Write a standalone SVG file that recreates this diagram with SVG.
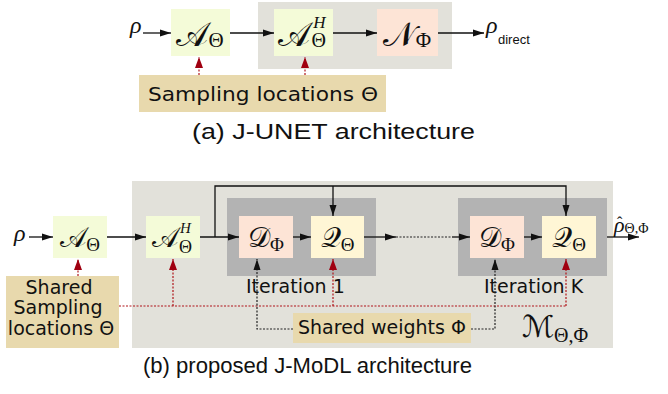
<svg xmlns="http://www.w3.org/2000/svg" width="668" height="394" viewBox="0 0 668 394">
<style>
.bg{fill:#e2e1da}
.iter{fill:#b3b3b3}
.bg-g{fill:#f4fbd8}
.bg-p{fill:#fde4d6}
.bg-y{fill:#fff6d5}
.beige{fill:#e8d9ad}
.cal{font-family:"DejaVu Serif","DejaVu Sans",serif;fill:#111}
.gr{font-family:"Liberation Serif","DejaVu Serif",serif;font-style:normal;fill:#111}
.it{font-family:"Liberation Serif","DejaVu Serif",serif;font-style:italic;fill:#111}
.lbl{font-family:"DejaVu Sans",sans-serif;font-size:19px;fill:#111}
.cap{font-family:"Liberation Sans",Arial,sans-serif;font-size:22px;fill:#111}
.ln{fill:none;stroke:#111;stroke-width:1.3}
.dot{fill:none;stroke:#222;stroke-width:1.2;stroke-dasharray:2 1.5}
.red{fill:none;stroke:#b0141a;stroke-width:1.2;stroke-dasharray:2 1.5}
</style>
<defs>
<marker id="ah" markerUnits="userSpaceOnUse" markerWidth="12" markerHeight="10" refX="11" refY="5" orient="auto"><path d="M0,1.5 L11,5 L0,8.5 Z" fill="#111"/></marker>
<marker id="ahr" markerUnits="userSpaceOnUse" markerWidth="12" markerHeight="10" refX="11" refY="5" orient="auto"><path d="M0,1 L11,5 L0,9 Z" fill="#a00010"/></marker>
</defs>

<!-- (a) J-UNET -->
<rect class="bg" x="258" y="2" width="194" height="67"/>
<g id="a-rho"><text class="it" x="130" y="33" font-size="24">ρ</text></g>
<g id="a-A"><rect class="bg-g" x="171" y="9" width="59" height="47"/>
<text class="cal" x="200" y="46" font-size="34" text-anchor="middle">𝒜<tspan class="gr" font-size="21" dy="1">Θ</tspan></text></g>
<g id="a-AH"><rect class="bg-g" x="274" y="9" width="59" height="47"/>
<text class="cal" x="302" y="46" font-size="34" text-anchor="middle">𝒜<tspan class="it" font-size="17" dx="3" dy="-18">H</tspan><tspan class="gr" font-size="20" dx="-14" dy="19">Θ</tspan></text></g>
<g id="a-N"><rect class="bg-p" x="377" y="9" width="61" height="47"/>
<text class="cal" x="407" y="46" font-size="34" text-anchor="middle">𝒩<tspan class="gr" font-size="21" dy="1">Φ</tspan></text></g>
<g id="a-out"><text class="it" x="486" y="33" font-size="24">ρ</text><text x="498" y="44" font-family="Liberation Sans,Arial,sans-serif" font-size="13" fill="#111">direct</text></g>
<g id="a-samp"><rect class="beige" x="139" y="75" width="247" height="37"/>
<text class="lbl" x="148" y="101" font-size="20" textLength="230" lengthAdjust="spacingAndGlyphs">Sampling locations Θ</text></g>
<g id="a-conn">
<line class="ln" x1="143" y1="33" x2="171" y2="33" marker-end="url(#ah)"/>
<line class="ln" x1="230" y1="33" x2="274" y2="33" marker-end="url(#ah)"/>
<line class="ln" x1="333" y1="33" x2="377" y2="33" marker-end="url(#ah)"/>
<line class="ln" x1="438" y1="33" x2="484" y2="33" marker-end="url(#ah)"/>
<line class="red" x1="199" y1="75" x2="199" y2="57" marker-end="url(#ahr)"/>
<line class="red" x1="305" y1="75" x2="305" y2="57" marker-end="url(#ahr)"/>
</g>
<text class="cap" x="192" y="139" textLength="283" lengthAdjust="spacingAndGlyphs">(a) J-UNET architecture</text>

<!-- (b) J-MoDL -->
<rect class="bg" x="132" y="181" width="481" height="167"/>
<rect class="iter" x="227" y="198" width="149" height="78"/>
<rect class="iter" x="458" y="198" width="149" height="78"/>
<text class="lbl" x="246" y="293">Iteration 1</text>
<text class="lbl" x="484" y="293">Iteration K</text>

<g id="b-rho"><text class="it" x="14" y="241" font-size="24">ρ</text></g>
<g id="b-A"><rect class="bg-g" x="53" y="216" width="54" height="42"/>
<text class="cal" x="80" y="247" font-size="28" text-anchor="middle">𝒜<tspan class="gr" font-size="19" dy="4">Θ</tspan></text></g>
<g id="b-AH"><rect class="bg-g" x="146" y="216" width="54" height="42"/>
<text class="cal" x="172" y="247" font-size="28" text-anchor="middle">𝒜<tspan class="it" font-size="15" dx="2" dy="-14">H</tspan><tspan class="gr" font-size="18" dx="-12" dy="20">Θ</tspan></text></g>
<g id="b-D1"><rect class="bg-p" x="239" y="216" width="54" height="42"/>
<text class="cal" x="266" y="247" font-size="28" text-anchor="middle">𝒟<tspan class="gr" font-size="19" dy="4">Φ</tspan></text></g>
<g id="b-Q1"><rect class="bg-y" x="311" y="216" width="53" height="42"/>
<text class="cal" x="337.5" y="247" font-size="28" text-anchor="middle">𝒬<tspan class="gr" font-size="19" dy="4">Θ</tspan></text></g>
<g id="b-DK"><rect class="bg-p" x="470" y="216" width="54" height="42"/>
<text class="cal" x="497" y="247" font-size="28" text-anchor="middle">𝒟<tspan class="gr" font-size="19" dy="4">Φ</tspan></text></g>
<g id="b-QK"><rect class="bg-y" x="542" y="216" width="54" height="42"/>
<text class="cal" x="569" y="247" font-size="28" text-anchor="middle">𝒬<tspan class="gr" font-size="19" dy="4">Θ</tspan></text></g>
<g id="b-out"><text class="it" x="614" y="232" font-size="22">ρ<tspan class="gr" font-size="14" dy="1">Θ,Φ</tspan></text><text class="gr" x="617" y="228" font-size="16">ˆ</text></g>
<g id="b-M"><text class="cal" x="522" y="337" font-size="30">ℳ<tspan class="gr" font-size="20" dy="5">Θ,Φ</tspan></text></g>
<g id="b-samp"><rect class="beige" x="6" y="276" width="113" height="72"/>
<text class="lbl" text-anchor="middle"><tspan x="59" y="294">Shared</tspan><tspan x="58" y="314">Sampling</tspan><tspan x="61" y="335">locations Θ</tspan></text></g>
<g id="b-weights"><rect class="beige" x="293" y="313" width="178" height="30"/>
<text class="lbl" x="298" y="334">Shared weights Φ</text></g>

<g id="b-conn">
<line class="ln" x1="29" y1="237" x2="53" y2="237" marker-end="url(#ah)"/>
<line class="ln" x1="107" y1="237" x2="146" y2="237" marker-end="url(#ah)"/>
<line class="ln" x1="200" y1="237" x2="239" y2="237" marker-end="url(#ah)"/>
<path class="ln" d="M215,237 V186 H566 V216" marker-end="url(#ah)"/>
<line class="ln" x1="333" y1="186" x2="333" y2="216" marker-end="url(#ah)"/>
<line class="ln" x1="293" y1="237" x2="311" y2="237" marker-end="url(#ah)"/>
<line class="ln" x1="364" y1="237" x2="396" y2="237" marker-end="url(#ah)"/>
<line class="dot" x1="396" y1="237" x2="452" y2="237"/>
<line class="ln" x1="452" y1="237" x2="470" y2="237" marker-end="url(#ah)"/>
<line class="ln" x1="524" y1="237" x2="542" y2="237" marker-end="url(#ah)"/>
<line class="ln" x1="607" y1="237" x2="639" y2="237" marker-end="url(#ah)"/>
<path class="red" d="M119,306 H566"/>
<line class="red" x1="78" y1="276" x2="78" y2="259" marker-end="url(#ahr)"/>
<line class="red" x1="173" y1="306" x2="173" y2="259" marker-end="url(#ahr)"/>
<line class="red" x1="333" y1="306" x2="333" y2="259" marker-end="url(#ahr)"/>
<line class="red" x1="566" y1="306" x2="566" y2="259" marker-end="url(#ahr)"/>
<path class="dot" d="M293,329 H257 V259" marker-end="url(#ah)"/>
<path class="dot" d="M471,329 H495 V259" marker-end="url(#ah)"/>
</g>
<text class="cap" x="143" y="373" textLength="329" lengthAdjust="spacingAndGlyphs">(b) proposed J-MoDL architecture</text>
</svg>
